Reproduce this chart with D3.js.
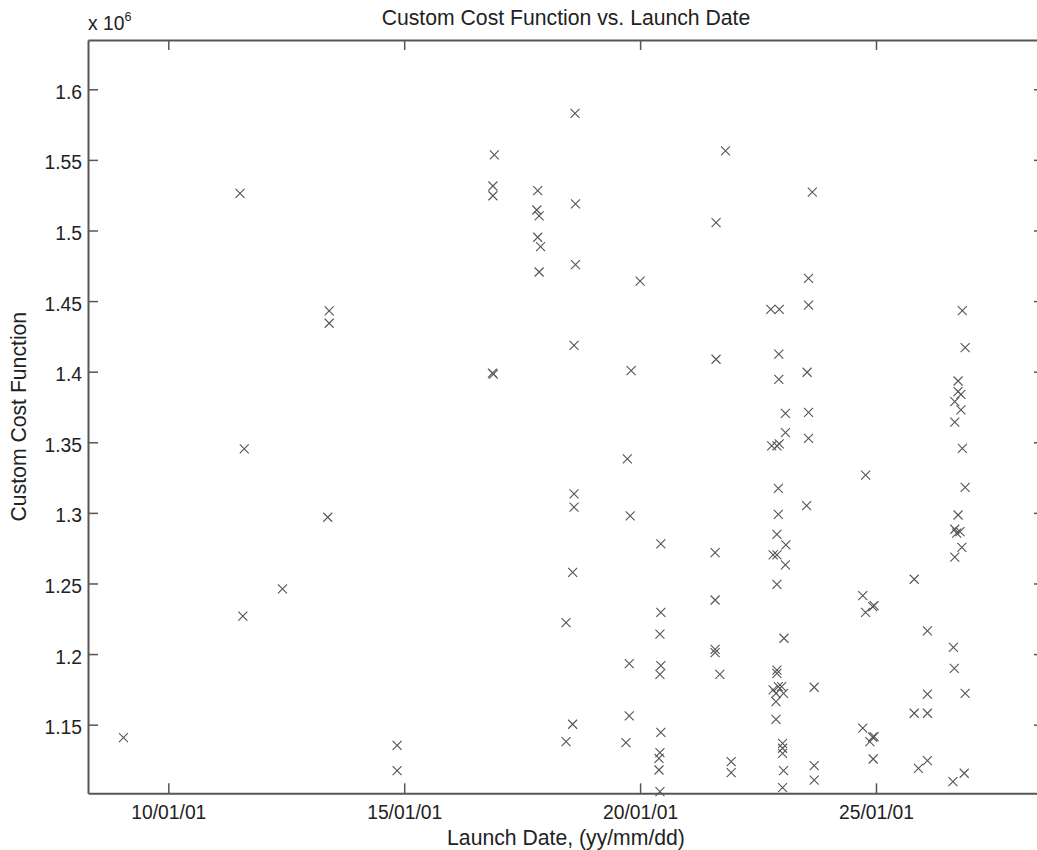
<!DOCTYPE html>
<html lang="en">
<head>
    <meta charset="UTF-8">
    <title>Custom Cost Function vs. Launch Date</title>
    <script src="https://d3js.org/d3.v7.min.js"></script>
    <style>
        body { margin: 0; padding: 0; background: #fff; }
        svg { display: block; }
        text { font-family: "Liberation Sans", Arial, Helvetica, sans-serif; fill: #222; }
        .axis path, .axis line { stroke: #555; }
        .axis .domain { stroke-width: 2px; }
        .axis .tick line { stroke-width: 1.5px; }
        .axis text { font-size: 19.3px; fill: #222; }
        .marker { fill: none; stroke: #555; stroke-width: 1.1px; }
    </style>
</head>
<body>
<div id="chart"></div>
<script>
    // launch date (decimal year) and cost function (x 10^6)
    const launchDate = [
        2009.05, 2011.52, 2011.61, 2011.58, 2012.42, 2013.41, 2013.41, 2013.38, 2014.85, 2014.85,
        2016.91, 2016.88, 2016.88, 2016.87, 2016.89,
        2017.83, 2017.81, 2017.86, 2017.83, 2017.89, 2017.86,
        2018.62, 2018.63, 2018.63, 2018.60, 2018.60, 2018.60, 2018.57, 2018.43, 2018.57, 2018.43,
        2020.00, 2019.81, 2019.73, 2019.79, 2019.77, 2019.77, 2019.70,
        2020.44, 2020.44, 2020.42, 2020.44, 2020.42, 2020.44, 2020.42, 2020.40, 2020.40, 2020.42,
        2021.61, 2021.81, 2021.61, 2021.59, 2021.59, 2021.59, 2021.59, 2021.69, 2021.93, 2021.93,
        2022.77, 2022.95, 2022.94, 2022.94, 2023.08, 2023.08, 2022.79, 2022.90, 2022.95, 2022.93,
        2022.93, 2022.90, 2023.09, 2022.82, 2022.90, 2023.08, 2022.90, 2023.05, 2022.90, 2022.90,
        2022.82, 2022.93, 2023.00, 2023.04, 2022.88, 2022.88, 2022.88, 2023.02, 2023.02, 2023.02,
        2023.04, 2023.02,
        2023.65, 2023.57, 2023.57, 2023.54, 2023.57, 2023.57, 2023.53, 2023.69, 2023.69, 2023.69,
        2024.78, 2024.72, 2024.96, 2024.93, 2024.78, 2024.72, 2024.93, 2024.96, 2024.87, 2024.94,
        2025.81, 2026.09, 2026.09, 2025.81, 2026.09, 2025.90, 2026.09,
        2026.83, 2026.89, 2026.74, 2026.74, 2026.80, 2026.67, 2026.80, 2026.67, 2026.83, 2026.89,
        2026.74, 2026.67, 2026.71, 2026.78, 2026.82, 2026.67, 2026.64, 2026.66, 2026.89, 2026.63,
        2026.87
    ];
    const costFunction = [
        1.1408, 1.5263, 1.3453, 1.2268, 1.2461, 1.4430, 1.4343, 1.2969, 1.1354, 1.1174,
        1.5535, 1.5315, 1.5246, 1.3990, 1.3982,
        1.5282, 1.5145, 1.5103, 1.4952, 1.4885, 1.4706,
        1.5830, 1.5188, 1.4758, 1.4187, 1.3134, 1.3040, 1.2579, 1.2222, 1.1503, 1.1380,
        1.4642, 1.4007, 1.3382, 1.2978, 1.1932, 1.1562, 1.1373,
        1.2780, 1.2296, 1.2142, 1.1918, 1.1857, 1.1446, 1.1302, 1.1262, 1.1179, 1.1026,
        1.5055, 1.5563, 1.4088, 1.2718, 1.2383, 1.2034, 1.2010, 1.1857, 1.1238, 1.1160,
        1.4442, 1.4442, 1.4125, 1.3946, 1.3705, 1.3568, 1.3474, 1.3474, 1.3488, 1.3174,
        1.2990, 1.2848, 1.2773, 1.2702, 1.2702, 1.2631, 1.2494, 1.2112, 1.1887, 1.1864,
        1.1746, 1.1769, 1.1769, 1.1722, 1.1722, 1.1663, 1.1538, 1.1368, 1.1333, 1.1297,
        1.1174, 1.1054,
        1.5271, 1.4661, 1.4472, 1.3996, 1.3712, 1.3528, 1.3051, 1.1765, 1.1210, 1.1108,
        1.3268, 1.2414, 1.2343, 1.2336, 1.2296, 1.1475, 1.1411, 1.1415, 1.1380, 1.1257,
        1.2530, 1.2164, 1.1717, 1.1581, 1.1581, 1.1191, 1.1245,
        1.4432, 1.4170, 1.3934, 1.3858, 1.3840, 1.3788, 1.3729, 1.3642, 1.3457, 1.3181,
        1.2985, 1.2884, 1.2856, 1.2867, 1.2756, 1.2686, 1.2048, 1.1899, 1.1722, 1.1096,
        1.1156
    ];

    const xTicks = [2010, 2015, 2020, 2025];
    const xTickLabels = ["10/01/01", "15/01/01", "20/01/01", "25/01/01"];
    const yTicks = [1.15, 1.2, 1.25, 1.3, 1.35, 1.4, 1.45, 1.5, 1.55, 1.6];
    const yTickLabels = ["1.15", "1.2", "1.25", "1.3", "1.35", "1.4", "1.45", "1.5", "1.55", "1.6"];
    const xLimits = [2008.298, 2028.561];
    const yLimits = [1.1014, 1.6349];

    const width = 1037, height = 850;
    const plotLeft = 88, plotRight = 1044, plotTop = 40, plotBottom = 793.3;

    const svg = d3.select("#chart").append("svg")
        .attr("width", width)
        .attr("height", height);

    const x = d3.scaleLinear().domain(xLimits).range([plotLeft, plotRight]);
    const y = d3.scaleLinear().domain(yLimits).range([plotBottom, plotTop]);

    // box axes, ticks pointing inward like matlab
    svg.append("g").attr("class", "axis")
        .attr("transform", `translate(0,${plotBottom})`)
        .call(d3.axisBottom(x).tickValues(xTicks).tickSizeInner(-10).tickSizeOuter(0).tickPadding(12.5)
            .tickFormat((d, i) => xTickLabels[i]));

    svg.append("g").attr("class", "axis")
        .attr("transform", `translate(0,${plotTop})`)
        .call(d3.axisTop(x).tickValues(xTicks).tickSizeInner(-10).tickSizeOuter(0).tickFormat(""));

    svg.append("g").attr("class", "axis")
        .attr("transform", `translate(${plotLeft},0)`)
        .call(d3.axisLeft(y).tickValues(yTicks).tickSizeInner(-10).tickSizeOuter(0).tickPadding(6)
            .tickFormat((d, i) => yTickLabels[i]))
        .selectAll("text").attr("dy", "0.47em");

    svg.append("g").attr("class", "axis")
        .attr("transform", `translate(${plotRight},0)`)
        .call(d3.axisRight(y).tickValues(yTicks).tickSizeInner(-10).tickSizeOuter(0).tickFormat(""));

    // markers
    const points = launchDate.map((d, i) => ({ date: d, cost: costFunction[i] }));
    svg.append("g")
        .selectAll("path")
        .data(points)
        .enter()
        .append("path")
        .attr("class", "marker")
        .attr("transform", d => `translate(${x(d.date)},${y(d.cost)})`)
        .attr("d", "M-4.5,-4.5L4.5,4.5M-4.5,4.5L4.5,-4.5");

    // exponent label
    const expo = svg.append("text")
        .attr("x", plotLeft)
        .attr("y", 30)
        .style("font-size", "19.3px");
    expo.append("tspan").text("x 10");
    expo.append("tspan").attr("dy", -9.5).style("font-size", "12.5px").text("6");

    svg.append("text")
        .attr("x", (plotLeft + plotRight) / 2)
        .attr("y", 24.7)
        .attr("text-anchor", "middle")
        .style("font-size", "21.2px")
        .text("Custom Cost Function vs. Launch Date");

    svg.append("text")
        .attr("x", (plotLeft + plotRight) / 2)
        .attr("y", 844.5)
        .attr("text-anchor", "middle")
        .style("font-size", "21.2px")
        .text("Launch Date, (yy/mm/dd)");

    svg.append("text")
        .attr("transform", `translate(25.5,${(plotTop + plotBottom) / 2}) rotate(-90)`)
        .attr("text-anchor", "middle")
        .style("font-size", "21.2px")
        .text("Custom Cost Function");
</script>
</body>
</html>
